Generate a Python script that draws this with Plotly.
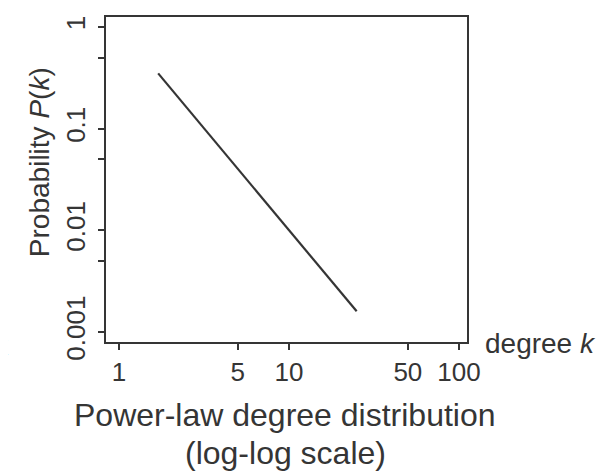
import plotly.graph_objects as go

# power-law line P(k) ~ k^-2, end points
degree = [1.7, 25]
prob = [0.35, 0.0016]

y_tickvals = [0.001, 0.005, 0.01, 0.05, 0.1, 0.5, 1]
y_ticktext = ["0.001", "", "0.01", "", "0.1", "", "1"]
x_tickvals = [1, 5, 10, 50, 100]
x_ticktext = ["1", "5", "10", "50", "100"]

ink = "#353535"
font = "Liberation Sans, Arial, sans-serif"

fig = go.Figure()
fig.add_trace(go.Scatter(x=degree, y=prob, mode="lines",
                         line=dict(color=ink, width=2.2), showlegend=False))

fig.update_xaxes(type="log", range=[-0.0765, 2.047],
                 tickvals=x_tickvals, ticktext=x_ticktext,
                 ticks="outside", ticklen=6, tickwidth=1.5, tickcolor=ink,
                 showline=True, linecolor=ink, linewidth=2, mirror=True,
                 showgrid=False, zeroline=False, ticklabelstandoff=0,
                 tickfont=dict(family=font, size=26, color=ink))
fig.update_yaxes(type="log", range=[-3.098, 0.098],
                 tickvals=y_tickvals, ticktext=y_ticktext, tickangle=-90,
                 ticks="outside", ticklen=6, tickwidth=1.5, tickcolor=ink,
                 showline=True, linecolor=ink, linewidth=2, mirror=True,
                 showgrid=False, zeroline=False, ticklabelstandoff=3,
                 tickfont=dict(family=font, size=26, color=ink))

annotations = [
    dict(text="Probability <i>P</i>(<i>k</i>)", x=-0.186, y=0.553,
         textangle=-90, font=dict(size=28)),
    dict(text="degree <i>k</i>", x=1.044, y=-0.006, xanchor="left",
         font=dict(size=28)),
    dict(text="Power-law degree distribution", x=0.496, y=-0.225,
         font=dict(size=32)),
    dict(text="(log-log scale)", x=0.496, y=-0.34, font=dict(size=32)),
    dict(text="k", x=-0.29, y=-0.01, xanchor="center", font=dict(size=28)),
]
for a in annotations:
    a.setdefault("xanchor", "center")
    a.update(xref="paper", yref="paper", yanchor="middle", showarrow=False)
    a["font"].update(family=font, color=ink)

# page body adds an 8px margin, so the figure is 8px smaller than the window
fig.update_layout(width=602, height=464, autosize=False,
                  margin=dict(l=98, r=143, t=7, b=130),
                  paper_bgcolor="white", plot_bgcolor="white",
                  annotations=annotations)

fig.write_html("out.html")
